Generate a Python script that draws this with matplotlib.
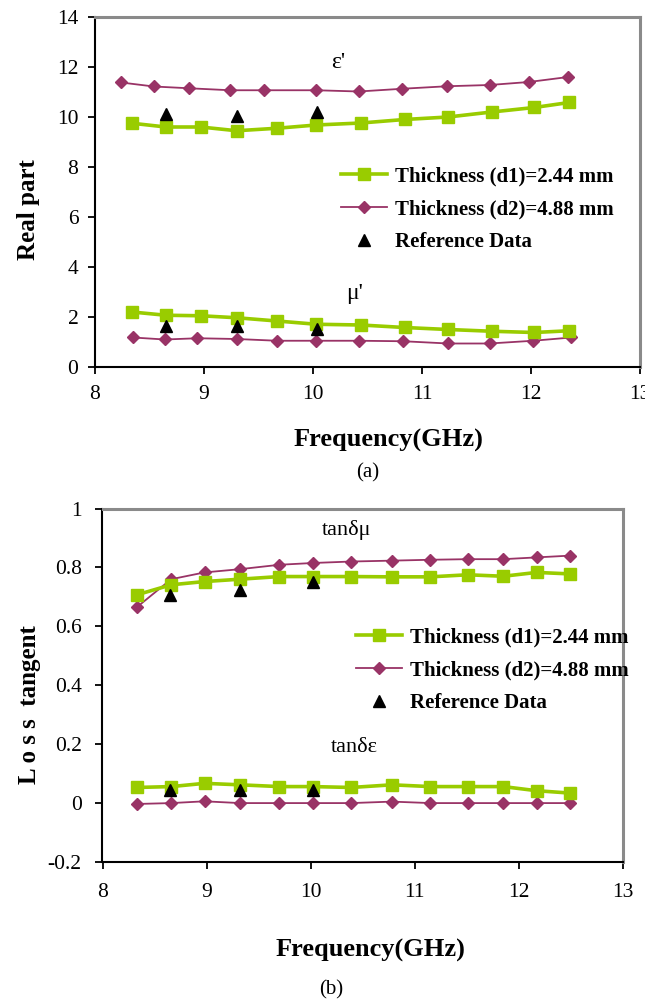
import matplotlib
matplotlib.use("Agg")
import matplotlib.pyplot as plt
from matplotlib.lines import Line2D
from matplotlib.transforms import Bbox, TransformedBbox

plt.rcParams['font.family'] = ['Liberation Serif', 'DejaVu Serif']

# ---------------- data: (a) real parts ----------------
freq_a_d1 = [8.34, 8.65, 8.97, 9.30, 9.67, 10.03, 10.44, 10.84, 11.24, 11.64, 12.03, 12.35]
eps_d1 = [9.75, 9.60, 9.60, 9.45, 9.55, 9.68, 9.76, 9.90, 10.00, 10.20, 10.38, 10.58]
mu_d1 = [2.20, 2.07, 2.05, 1.97, 1.84, 1.71, 1.68, 1.58, 1.50, 1.43, 1.38, 1.45]

freq_a_eps_d2 = [8.24, 8.54, 8.86, 9.24, 9.55, 10.03, 10.42, 10.82, 11.23, 11.62, 11.98, 12.34]
eps_d2 = [11.38, 11.22, 11.15, 11.07, 11.07, 11.07, 11.02, 11.13, 11.23, 11.28, 11.40, 11.60]

freq_a_mu_d2 = [8.35, 8.64, 8.94, 9.30, 9.67, 10.03, 10.42, 10.83, 11.24, 11.62, 12.02, 12.37]
mu_d2 = [1.18, 1.10, 1.15, 1.12, 1.05, 1.05, 1.05, 1.03, 0.94, 0.94, 1.05, 1.18]

ref_freq_a = [8.65, 9.30, 10.04]
ref_eps = [10.10, 10.05, 10.20]
ref_mu = [1.65, 1.65, 1.50]

# ---------------- data: (b) loss tangents ----------------
freq_b = [8.33, 8.66, 8.98, 9.32, 9.70, 10.02, 10.39, 10.78, 11.15, 11.51, 11.85, 12.17, 12.49]
tan_mu_d1 = [0.707, 0.741, 0.752, 0.760, 0.769, 0.769, 0.769, 0.768, 0.768, 0.775, 0.770, 0.783, 0.778]
tan_mu_d2 = [0.665, 0.760, 0.783, 0.794, 0.809, 0.815, 0.820, 0.823, 0.826, 0.828, 0.828, 0.834, 0.840]
tan_eps_d1 = [0.053, 0.056, 0.067, 0.062, 0.056, 0.056, 0.053, 0.062, 0.056, 0.056, 0.056, 0.042, 0.034]
tan_eps_d2 = [-0.003, 0.000, 0.006, 0.000, 0.000, 0.000, 0.000, 0.005, 0.000, 0.000, 0.000, 0.000, 0.000]

ref_freq_b = [8.65, 9.32, 10.02]
ref_tan_mu = [0.705, 0.725, 0.750]
ref_tan_eps = [0.045, 0.045, 0.045]

x_ticks = [8, 9, 10, 11, 12, 13]
y_ticks_a = [0, 2, 4, 6, 8, 10, 12, 14]
y_ticks_b = [-0.2, 0, 0.2, 0.4, 0.6, 0.8, 1.0]
y_tick_labels_b = ["-0.2", "0", "0.2", "0.4", "0.6", "0.8", "1"]

label_d1 = "Thickness (d1)=2.44 mm"
label_d2 = "Thickness (d2)=4.88 mm"
label_ref = "Reference Data"

GREEN = "#99cc00"
PURPLE = "#993366"
FRAME = "#8a8a8a"

W, H = 661, 1005
fig = plt.figure(figsize=(W / 100, H / 100), dpi=100)


def px_axes(left, top, right, bottom):
    return fig.add_axes([left / W, 1 - bottom / H, (right - left) / W, (bottom - top) / H])


def style_axes(ax, ypad, xpad):
    for side in ("left", "bottom"):
        ax.spines[side].set_color("black")
        ax.spines[side].set_linewidth(1.5)
    for side in ("top", "right"):
        ax.spines[side].set_color(FRAME)
        ax.spines[side].set_linewidth(2.2)
    ax.tick_params(axis="both", which="major", direction="out", length=5, width=1.3,
                   labelsize=15.5, top=False, right=False)
    ax.tick_params(axis="y", pad=ypad)
    ax.tick_params(axis="x", pad=xpad)


def green_line(ax, x, y):
    ax.plot(x, y, color=GREEN, lw=2.6, marker="s", markersize=8,
            markerfacecolor=GREEN, markeredgecolor=GREEN, zorder=3)


def purple_line(ax, x, y):
    ax.plot(x, y, color=PURPLE, lw=1.3, marker="D", markersize=6,
            markerfacecolor=PURPLE, markeredgecolor=PURPLE, zorder=3)


def ref_points(ax, x, y):
    ax.plot(x, y, linestyle="none", marker="^", markersize=9, color="black", zorder=5)


def add_legend(x_px, y_px):
    handles = [
        Line2D([], [], color=GREEN, lw=2.6, marker="s", markersize=8),
        Line2D([], [], color=PURPLE, lw=1.3, marker="D", markersize=6),
        Line2D([], [], linestyle="none", marker="^", markersize=9, color="black"),
    ]
    fig.legend(handles, [label_d1, label_d2, label_ref], loc="center left",
               bbox_to_anchor=(x_px / W, 1 - y_px / H), frameon=False,
               prop={"family": "Liberation Serif", "weight": "bold", "size": 15},
               handlelength=2.2, handletextpad=0.4, labelspacing=0.62,
               borderpad=0, borderaxespad=0)


# ---------------- panel (a) ----------------
ax1 = px_axes(95, 17, 640, 367)
style_axes(ax1, ypad=7, xpad=8)
purple_line(ax1, freq_a_eps_d2, eps_d2)
green_line(ax1, freq_a_d1, eps_d1)
purple_line(ax1, freq_a_mu_d2, mu_d2)
green_line(ax1, freq_a_d1, mu_d1)
ref_points(ax1, ref_freq_a, ref_eps)
ref_points(ax1, ref_freq_a, ref_mu)
ax1.set_xlim(8, 13)
ax1.set_ylim(0, 14)
ax1.set_xticks(x_ticks)
ax1.set_yticks(y_ticks_a)
ax1.text(10.23, 12.2, "ε'", fontsize=17, ha="center", va="center")
ax1.text(10.38, 2.95, "μ'", fontsize=17, ha="center", va="center")
add_legend(341, 209)
fig.text(28 / W, 1 - 210 / H, "Real part", rotation=90, fontsize=18, fontweight="bold",
         ha="center", va="center")
fig.text(388 / W, 1 - 440 / H, "Frequency(GHz)", fontsize=19, fontweight="bold",
         ha="center", va="center")
fig.text(368 / W, 1 - 473 / H, "(a)", fontsize=15, ha="center", va="center")

# the upper panel is trimmed at its right edge, cutting its last tick label
fig.canvas.draw()
last_lab = ax1.xaxis.get_major_ticks()[-1].label1
last_lab.set_clip_on(True)
last_lab.set_clip_box(TransformedBbox(Bbox([[0, 0], [645 / W, 1]]), fig.transFigure))

# ---------------- panel (b) ----------------
ax2 = px_axes(102.5, 508.5, 623, 862)
style_axes(ax2, ypad=10, xpad=10)
purple_line(ax2, freq_b, tan_mu_d2)
green_line(ax2, freq_b, tan_mu_d1)
purple_line(ax2, freq_b, tan_eps_d2)
green_line(ax2, freq_b, tan_eps_d1)
ref_points(ax2, ref_freq_b, ref_tan_mu)
ref_points(ax2, ref_freq_b, ref_tan_eps)
ax2.set_xlim(8, 13)
ax2.set_ylim(-0.2, 1.0)
ax2.set_xticks(x_ticks)
ax2.set_yticks(y_ticks_b)
ax2.set_yticklabels(y_tick_labels_b)
ax2.text(10.34, 0.928, "tanδμ", fontsize=16, ha="center", va="center")
ax2.text(10.42, 0.19, "tanδε", fontsize=16, ha="center", va="center")
add_legend(356, 670)
fig.text(29.5 / W, 1 - 705 / H, "L o s s  tangent", rotation=90, fontsize=18,
         fontweight="bold", ha="center", va="center")
fig.text(370 / W, 1 - 950 / H, "Frequency(GHz)", fontsize=19, fontweight="bold",
         ha="center", va="center")
fig.text(331 / W, 1 - 990 / H, "(b)", fontsize=15, ha="center", va="center")

fig.savefig("out.png", dpi=100)
